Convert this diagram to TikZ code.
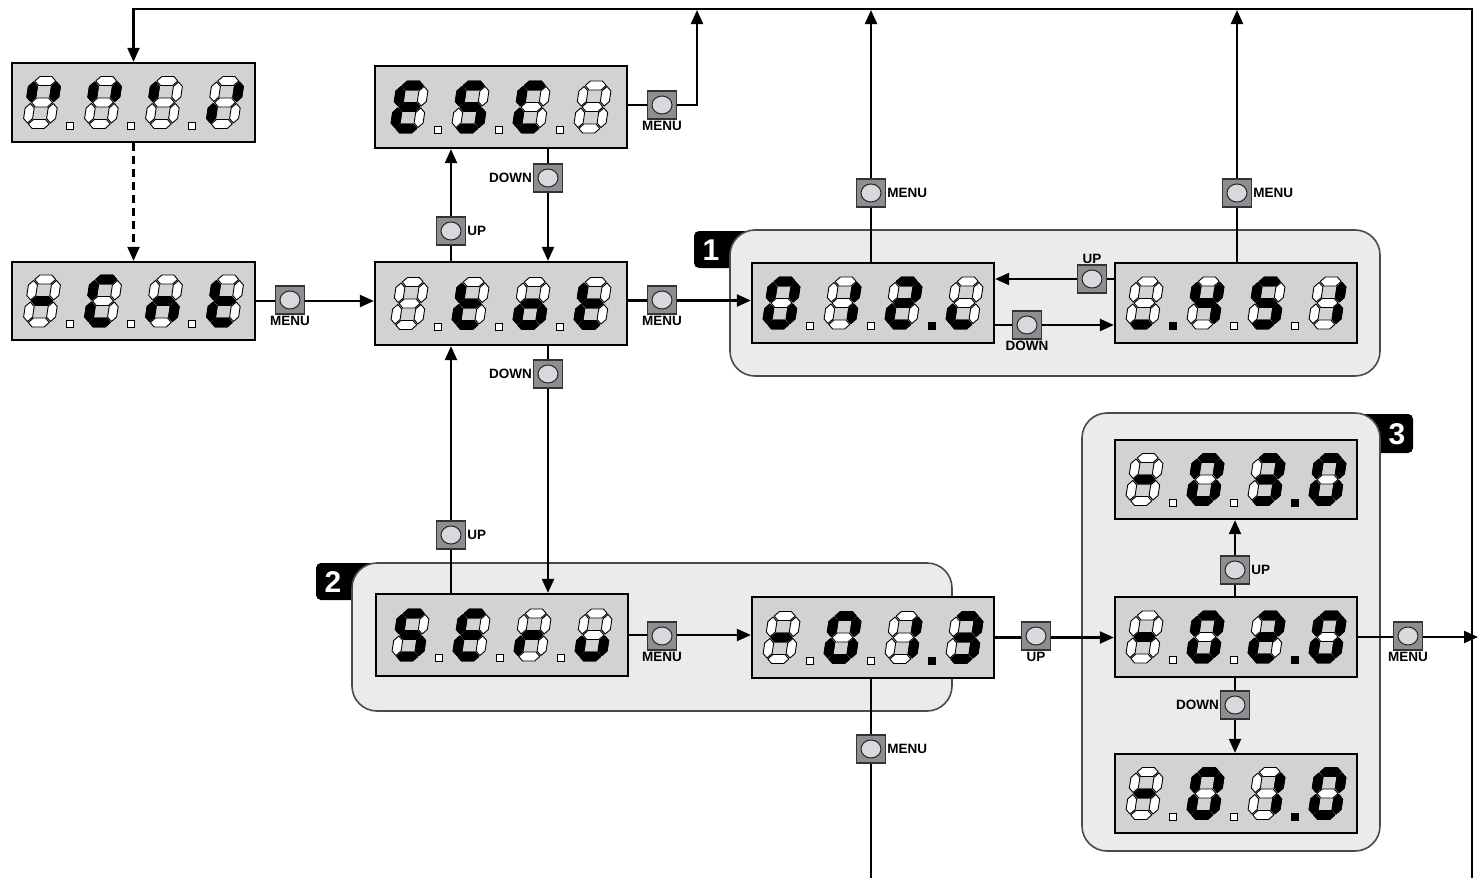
\documentclass[tikz,border=0pt]{standalone}
\usepackage{fontspec}
\setmainfont{Liberation Sans}
\usetikzlibrary{arrows.meta}
\definecolor{dispgray}{HTML}{D2D2D2}
\definecolor{panelgray}{HTML}{EBEBEB}
\definecolor{btngray}{HTML}{8E8E8E}
\definecolor{btnface}{HTML}{D8D8DE}
\definecolor{edgegray}{HTML}{4A4A4A}

\def\sega{(-10.5,-21.5) -- (-6,-26) -- (6,-26) -- (10.5,-21.5) -- (6,-17) -- (-6,-17) -- cycle}
\def\segg{(-10.5,0) -- (-6,-4.5) -- (6,-4.5) -- (10.5,0) -- (6,4.5) -- (-6,4.5) -- cycle}
\def\segd{(-10.5,21.5) -- (-6,17) -- (6,17) -- (10.5,21.5) -- (6,26) -- (-6,26) -- cycle}
\def\segf{(-11.5,-20.5) -- (-7,-16) -- (-7,-5.5) -- (-11.5,-1) -- (-16,-5.5) -- (-16,-16) -- cycle}
\def\segb{(11.5,-20.5) -- (16,-16) -- (16,-5.5) -- (11.5,-1) -- (7,-5.5) -- (7,-16) -- cycle}
\def\sege{(-11.5,1) -- (-7,5.5) -- (-7,16) -- (-11.5,20.5) -- (-16,16) -- (-16,5.5) -- cycle}
\def\segc{(11.5,1) -- (16,5.5) -- (16,16) -- (11.5,20.5) -- (7,16) -- (7,5.5) -- cycle}
\def\segn{}

\newcommand\dig[3]{%
 \begin{scope}[shift={(#1,#2)},xslant=0.15]
  \foreach \s in {a,b,c,d,e,f,g}{\edef\mysegtmp{\noexpand\filldraw[unlit] \csname seg\s\endcsname;}\mysegtmp}
  \foreach \s in {#3}{\edef\mysegtmp{\noexpand\filldraw[lit] \csname seg\s\endcsname;}\mysegtmp}
 \end{scope}}

\newcommand\dsp[7]{%
 \dig{#1-91.5}{#2}{#3}\dig{#1-30.5}{#2}{#4}\dig{#1+30.5}{#2}{#5}\dig{#1+91.5}{#2}{#6}%
 \foreach \v [count=\k] in {#7}{\draw[dp\v] (#1-91.5+61*\k-61+24.5, #2+19.5) rectangle ++(7,7);}}

\begin{document}
\begin{tikzpicture}[x=1pt,y=-1pt,
  unlit/.style={fill=white,draw=black,line width=0.9pt,line join=round},
  lit/.style={fill=black,draw=black,line width=0.9pt,line join=round},
  dpw/.style={fill=white,draw=black,line width=0.7pt},
  dpb/.style={fill=black},
  disp/.style={rectangle,draw=black,line width=2.3pt,fill=dispgray,inner sep=0pt},
  panel/.style={rectangle,rounded corners=25pt,fill=panelgray,draw=edgegray,line width=1.6pt,inner sep=0pt},
  tabfill/.style={fill=black,rounded corners=5pt},
  tabnum/.style={text=white,font=\bfseries\fontsize{30}{30}\selectfont,inner sep=0pt},
  arr/.style={line width=2.2pt,-{Triangle[length=14pt,width=12pt]}},
  plain/.style={line width=2.2pt},
  lbl/.style={font=\bfseries\fontsize{13.5}{13.5}\selectfont,inner sep=1pt},
  btn/.style={rectangle,draw=black!80,line width=1.1pt,fill=btngray,minimum width=29pt,minimum height=28pt,inner sep=0pt,
    path picture={\draw[fill=btnface,draw=black!85,line width=1pt] (path picture bounding box.center) ellipse (10pt and 9pt);}}
]
\useasboundingbox (0,0) rectangle (1484,878);

% tabs and panels
\fill[tabfill] (694,231) rectangle (760,268);
\fill[tabfill] (316,563) rectangle (380,600);
\fill[tabfill] (1350,414) rectangle (1413,453);
\node[panel,minimum width=650pt,minimum height=146pt] (P1) at (1055,303) {};
\node[panel,minimum width=600pt,minimum height=148pt] (P2) at (652,637) {};
\node[panel,minimum width=298pt,minimum height=438pt] (P3) at (1231,632) {};
\node[tabnum] (T1) at (711,250) {1};
\node[tabnum] (T2) at (333,582) {2};
\node[tabnum] (T3) at (1397,434) {3};

% displays
\node[disp,minimum width=243pt,minimum height=79pt] (A) at (133.5,102.5) {};
\node[disp,minimum width=252pt,minimum height=82pt] (B) at (501,107) {};
\node[disp,minimum width=243pt,minimum height=78pt] (C) at (133.5,301) {};
\node[disp,minimum width=252pt,minimum height=83pt] (D) at (501,303.5) {};
\node[disp,minimum width=242pt,minimum height=80pt] (E) at (873,303) {};
\node[disp,minimum width=242pt,minimum height=80pt] (F) at (1236,303) {};
\node[disp,minimum width=242pt,minimum height=79pt] (G) at (1236,479.5) {};
\node[disp,minimum width=242pt,minimum height=80pt] (H) at (1236,637) {};
\node[disp,minimum width=242pt,minimum height=79pt] (I) at (1236,793.5) {};
\node[disp,minimum width=252pt,minimum height=82pt] (J) at (502,635) {};
\node[disp,minimum width=242pt,minimum height=81pt] (K) at (873,637.5) {};

\dsp{133.5}{102.5}{f,b}{f,b}{f}{b,e}{w,w,w}
\dsp{501}{107}{a,f,g,e,d}{a,f,g,c,d}{a,f,e,d}{n}{w,w,w}
\dsp{133.5}{301}{g}{a,f,e,d}{g,e,c}{f,g,e,d}{w,w,w}
\dsp{501}{303.5}{n}{f,g,e,d}{g,c,d,e}{f,g,e,d}{w,w,w}
\dsp{873}{303}{a,b,c,d,e,f}{b,c}{a,b,g,e,d}{e,d}{w,w,b}
\dsp{1236}{303}{d}{f,g,b,c}{a,f,g,c,d}{b,c}{b,w,w}
\dsp{1236}{479.5}{g}{a,b,c,d,e,f}{a,b,g,c,d}{a,b,c,d,e,f}{w,w,b}
\dsp{1236}{637}{g}{a,b,c,d,e,f}{a,b,g,e,d}{a,b,c,d,e,f}{w,w,b}
\dsp{1236}{793.5}{g}{a,b,c,d,e,f}{b,c}{a,b,c,d,e,f}{w,w,b}
\dsp{502}{635}{a,f,g,c,d}{a,f,g,e,d}{e,g}{c,d,e}{w,w,w}
\dsp{873}{637.5}{g}{a,b,c,d,e,f}{b,c}{a,b,g,c,d}{w,w,b}

% free ends
\coordinate (t1) at (697,10);
\coordinate (t2) at (871,10);
\coordinate (t3) at (1237,10);
\coordinate (rt) at (1472,9);
\coordinate (rb) at (1472,878);
\coordinate (kb) at (871,878);
\coordinate (hr) at (1478,637);

% connectors
\draw[arr,dash pattern=on 8pt off 5pt] (A.south) -- (C.north);
\draw[arr] (C.east) -- (C.east -| D.west);
\draw[arr] ([xshift=-50pt]D.north) -- ([xshift=-50pt]B.south);
\draw[arr] ([xshift=47pt]B.south) -- ([xshift=47pt]D.north);
\draw[arr] ([yshift=2pt]B.east) -| (t1);
\draw[arr] ([yshift=3pt]D.east) -- ([yshift=3pt]D.east -| E.west);
\draw[arr] ([yshift=24pt]F.west) -- ([yshift=24pt]F.west -| E.east);
\draw[arr] ([yshift=-22pt]E.east) -- ([yshift=-22pt]E.east -| F.west);
\draw[arr] ([xshift=-2pt]E.north) -- (t2);
\draw[arr] ([xshift=1pt]F.north) -- (t3);
\draw[arr] ([xshift=47pt]D.south) -- ([xshift=47pt]D.south |- J.north);
\draw[arr] ([xshift=-51pt]J.north) -- ([xshift=-51pt]J.north |- D.south);
\draw[arr] (J.east) -- (J.east -| K.west);
\draw[arr] (K.east) -- (K.east -| H.west);
\draw[arr] ([xshift=-1pt]H.north) -- ([xshift=-1pt]G.south);
\draw[arr] ([xshift=-1pt]H.south) -- ([xshift=-1pt]I.north);
\draw[arr] (H.east) -- (hr);
\draw[plain] ([xshift=-2pt]K.south) -- (kb);
\draw[arr] (rb) -- (rt) -| (A.north);

% buttons
\node[btn,label={[lbl]below:MENU}] (b1) at (290,300) {};
\node[btn,label={[lbl]below:MENU}] (b2) at (662,105) {};
\node[btn,label={[lbl]left:DOWN}] (b3) at (548,178) {};
\node[btn,label={[lbl]right:UP}] (b4) at (451,231) {};
\node[btn,label={[lbl]below:MENU}] (b5) at (662,300) {};
\node[btn,label={[lbl]left:DOWN}] (b6) at (548,374) {};
\node[btn,label={[lbl]right:MENU}] (b7) at (871,193) {};
\node[btn,label={[lbl]right:MENU}] (b8) at (1237,193) {};
\node[btn,label={[lbl]above:UP}] (b9) at (1092,279) {};
\node[btn,label={[lbl]below:DOWN}] (b10) at (1027,325) {};
\node[btn,label={[lbl]right:UP}] (b11) at (451,535) {};
\node[btn,label={[lbl]below:MENU}] (b12) at (662,636) {};
\node[btn,label={[lbl]below:UP}] (b13) at (1036,636) {};
\node[btn,label={[lbl]right:UP}] (b14) at (1235,570) {};
\node[btn,label={[lbl]left:DOWN}] (b15) at (1235,705) {};
\node[btn,label={[lbl]below:MENU}] (b16) at (1408,636) {};
\node[btn,label={[lbl]right:MENU}] (b17) at (871,749) {};
\end{tikzpicture}
\end{document}
